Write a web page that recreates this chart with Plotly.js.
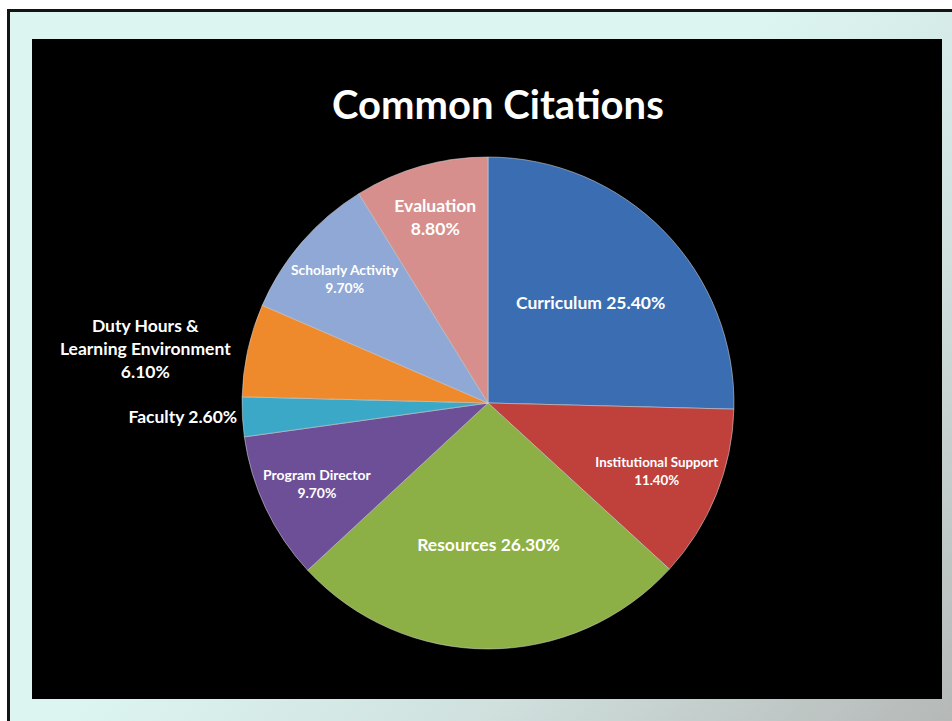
<!DOCTYPE html>
<html>
<head>
<meta charset="utf-8">
<script src="https://cdn.plot.ly/plotly-3.0.1.min.js"></script>
<style>
  html, body { margin: 0; padding: 0; width: 952px; height: 721px; overflow: hidden; background: #ffffff; }
  #frame {
    position: absolute; left: 7px; top: 9px; width: 960px; height: 730px;
    border-left: 3px solid #141414; border-top: 3px solid #141414;
    background: linear-gradient(135deg, #dcf5f1 0%, #dcf5f1 45%, #cfe0dd 70%, #b3b5b4 100%);
  }
  #chart { position: absolute; left: 32px; top: 39px; width: 910px; height: 660px; background: #000; }
</style>
</head>
<body>
<div id="frame"></div>
<div id="chart"></div>
<script>
const categories = ['Curriculum', 'Institutional Support', 'Resources', 'Program Director', 'Faculty', 'Duty Hours &<br>Learning Environment', 'Scholarly Activity', 'Evaluation'];
const percentages = [25.4, 11.4, 26.3, 9.7, 2.6, 6.1, 9.7, 8.8];
const breakBeforeValue = [false, true, false, true, false, true, true, true];
const labelPositions = ['inside', 'inside', 'inside', 'inside', 'outside', 'outside', 'inside', 'inside'];
const sliceColors = ['#3a6db2', '#c0403c', '#8cb045', '#6d4f98', '#3aa8c6', '#ee8a2c', '#8fa8d5', '#d68f8d'];
const chartTitle = 'Common Citations';

const texts = categories.map((c, i) => c + (breakBeforeValue[i] ? '<br>' : ' ') + percentages[i].toFixed(2) + '%');

const labelFont = { family: 'Lato, sans-serif', size: 17.5, color: '#ffffff', weight: 'bold' };

const trace = {
  type: 'pie',
  labels: categories,
  values: percentages,
  text: texts,
  textinfo: 'text',
  textposition: labelPositions,
  insidetextorientation: 'horizontal',
  sort: false,
  direction: 'clockwise',
  rotation: 0,
  marker: { colors: sliceColors, line: { color: 'rgba(215,215,215,0.55)', width: 1 } },
  textfont: labelFont,
  insidetextfont: labelFont,
  outsidetextfont: labelFont,
  domain: { x: [0.2308, 0.7714], y: [0.0758, 0.8212] },
  hoverinfo: 'none',
  showlegend: false
};

const layout = {
  width: 910, height: 660,
  margin: { l: 0, r: 0, t: 0, b: 0 },
  paper_bgcolor: '#000000',
  plot_bgcolor: '#000000',
  title: {
    text: '<b>' + chartTitle + '</b>',
    x: 0.512, xanchor: 'center', y: 0.9, yanchor: 'middle',
    font: { family: 'Lato, sans-serif', size: 40, color: '#ffffff' }
  },
  showlegend: false
};

Plotly.newPlot('chart', [trace], layout, { displayModeBar: false, staticPlot: true });
</script>
</body>
</html>
